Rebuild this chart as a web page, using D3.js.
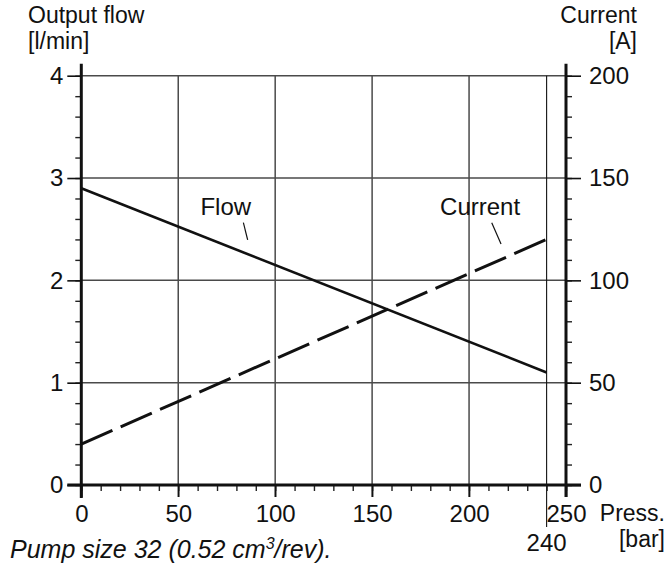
<html>
<head>
<style>
body{margin:0;background:#fff;}
svg{display:block;font-family:"Liberation Sans",Arial,Helvetica,sans-serif;}
</style>
<script src="https://d3js.org/d3.v7.min.js"></script>
</head>
<body>
<svg id="chart" width="667" height="569"></svg>
<script>
// chart data
const pressure = [0, 240];
const flow = [2.9, 1.1];      // l/min
const current = [20, 120];    // A
const xTicks = [0, 50, 100, 150, 200, 250];
const flowTicks = [0, 1, 2, 3, 4];
const currentTicks = [0, 50, 100, 150, 200];

const svg = d3.select('#chart');

const x = d3.scaleLinear().domain([0, 250]).range([81.3, 566]);
const y = d3.scaleLinear().domain([0, 4]).range([485, 75.7]);
const yA = d3.scaleLinear().domain([0, 200]).range([485, 75.7]);

const FS = 24;
const fmt = d3.format('d');

// grid
const grid = svg.append('g').attr('stroke', '#4a4a4a').attr('stroke-width', 1.5);
grid.selectAll('.hg').data(flowTicks.slice(1)).enter().append('line')
  .attr('x1', x(0)).attr('x2', x(250))
  .attr('y1', d => y(d)).attr('y2', d => y(d));
grid.selectAll('.vg').data(xTicks.slice(1, -1)).enter().append('line')
  .attr('x1', d => x(d)).attr('x2', d => x(d))
  .attr('y1', y(4)).attr('y2', y(0) + 12);
// 240 bar limit
svg.append('line')
  .attr('x1', x(240)).attr('x2', x(240))
  .attr('y1', y(4)).attr('y2', y(0) + 42)
  .attr('stroke', '#111').attr('stroke-width', 1.1);

// minor ticks
const minorY = d3.range(0, 4.01, 0.2);
const minorX = d3.range(0, 250.1, 10);
svg.append('g').attr('transform', 'translate(' + x(0) + ',0)')
  .call(d3.axisLeft(y).tickValues(minorY).tickSize(6).tickFormat(''))
  .call(g => g.select('.domain').remove())
  .call(g => g.selectAll('line').attr('stroke', '#222').attr('stroke-width', 1.4));
svg.append('g').attr('transform', 'translate(' + x(250) + ',0)')
  .call(d3.axisRight(yA).tickValues(d3.range(0, 200.1, 10)).tickSize(6).tickFormat(''))
  .call(g => g.select('.domain').remove())
  .call(g => g.selectAll('line').attr('stroke', '#222').attr('stroke-width', 1.4));
svg.append('g').attr('transform', 'translate(0,' + y(0) + ')')
  .call(d3.axisBottom(x).tickValues(minorX).tickSize(6).tickFormat(''))
  .call(g => g.select('.domain').remove())
  .call(g => g.selectAll('line').attr('stroke', '#222').attr('stroke-width', 1.4));

// major axes with labels
svg.append('g').attr('transform', 'translate(' + x(0) + ',0)')
  .call(d3.axisLeft(y).tickValues(flowTicks).tickFormat(fmt).tickSize(14).tickPadding(4))
  .call(g => g.select('.domain').remove())
  .call(g => g.selectAll('line').attr('stroke', '#111').attr('stroke-width', 1.6))
  .call(g => g.selectAll('text').attr('font-size', FS).attr('font-family', null).attr('fill', '#111'));
svg.append('g').attr('transform', 'translate(' + x(250) + ',0)')
  .call(d3.axisRight(yA).tickValues(currentTicks).tickFormat(fmt).tickSize(15).tickPadding(8))
  .call(g => g.select('.domain').remove())
  .call(g => g.selectAll('line').attr('stroke', '#111').attr('stroke-width', 1.6))
  .call(g => g.selectAll('text').attr('font-size', FS).attr('font-family', null).attr('fill', '#111'));
svg.append('g').attr('transform', 'translate(0,' + y(0) + ')')
  .call(d3.axisBottom(x).tickValues(xTicks).tickFormat(fmt).tickSize(12).tickPadding(8))
  .call(g => g.select('.domain').remove())
  .call(g => g.selectAll('line').attr('stroke', '#111').attr('stroke-width', 1.6))
  .call(g => g.selectAll('text').attr('font-size', FS).attr('font-family', null).attr('fill', '#111'));

// axis lines
const ax = svg.append('g').attr('stroke', '#111').attr('stroke-width', 3);
ax.append('line').attr('x1', x(0)).attr('x2', x(0)).attr('y1', y(4) - 12).attr('y2', y(0) + 13);
ax.append('line').attr('x1', x(250)).attr('x2', x(250)).attr('y1', y(4) - 12).attr('y2', y(0) + 12);
ax.append('line').attr('x1', x(0) - 14).attr('x2', x(250) + 15).attr('y1', y(0)).attr('y2', y(0));

// series
const flowLine = d3.line().x((d, i) => x(pressure[i])).y(d => y(d));
const currentLine = d3.line().x((d, i) => x(pressure[i])).y(d => yA(d));
svg.append('path').attr('d', flowLine(flow))
  .attr('fill', 'none').attr('stroke', '#111').attr('stroke-width', 2.6);
svg.append('path').attr('d', currentLine(current))
  .attr('fill', 'none').attr('stroke', '#111').attr('stroke-width', 3)
  .attr('stroke-dasharray', '34,9');

// series labels with leader lines
svg.append('text').attr('x', x(74.5)).attr('y', y(2.64)).attr('text-anchor', 'middle')
  .attr('font-size', FS).attr('fill', '#111').text('Flow');
svg.append('line').attr('x1', x(83.6)).attr('y1', y(2.564)).attr('x2', x(85.8)).attr('y2', y(2.395))
  .attr('stroke', '#111').attr('stroke-width', 1.2);
svg.append('text').attr('x', x(205.7)).attr('y', yA(132)).attr('text-anchor', 'middle')
  .attr('font-size', FS).attr('fill', '#111').text('Current');
svg.append('line').attr('x1', x(211.7)).attr('y1', yA(128.2)).attr('x2', x(216.5)).attr('y2', yA(117.8))
  .attr('stroke', '#111').attr('stroke-width', 1.2);

// axis titles
const t = svg.append('g').attr('font-size', 23).attr('fill', '#111');
t.append('text').attr('x', 28).attr('y', 23).text('Output flow');
t.append('text').attr('x', 28).attr('y', 49).text('[l/min]');
t.append('text').attr('x', 637).attr('y', 23).attr('text-anchor', 'end').text('Current');
t.append('text').attr('x', 637).attr('y', 49).attr('text-anchor', 'end').text('[A]');
t.append('text').attr('x', 665).attr('y', 521).attr('text-anchor', 'end').text('Press.');
t.append('text').attr('x', 665).attr('y', 547).attr('text-anchor', 'end').text('[bar]');
t.append('text').attr('x', x(240)).attr('y', 551).attr('text-anchor', 'middle').attr('font-size', FS).text('240');

const cap = svg.append('text').attr('x', 10).attr('y', 558).attr('font-style', 'italic')
  .attr('font-size', 25).attr('fill', '#111');
cap.append('tspan').text('Pump size 32 (0.52 cm');
cap.append('tspan').attr('font-size', 16).attr('dy', -9).text('3');
cap.append('tspan').attr('dy', 9).text('/rev).');
</script>
</body>
</html>
